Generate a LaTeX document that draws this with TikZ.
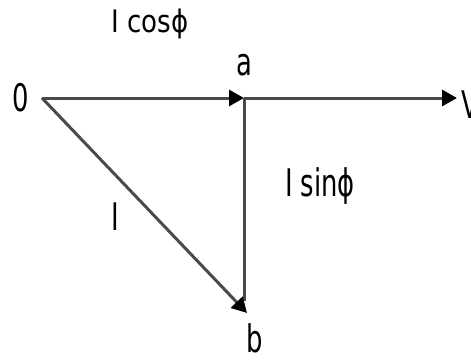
\documentclass[tikz,border=0pt]{standalone}
\usepackage{fontspec}
\setmainfont{DejaVu Sans}
\usepackage{graphicx}
\usetikzlibrary{arrows.meta, positioning}
\definecolor{cline}{HTML}{4A4A4A}
\newcommand\squeeze[2][0.68]{\scalebox{#1}[1]{#2}}
\tikzset{
  every picture/.style={line width=3pt},
  vec/.style={draw=cline, -{Triangle[length=15pt, width=16pt, color=black]}},
  leg/.style={draw=cline},
  lbl/.style={font=\fontsize{38}{40}\selectfont, inner sep=0pt},
  toplbl/.style={font=\fontsize{31}{34}\selectfont, inner sep=0pt},
}

\begin{document}
\begin{tikzpicture}[x=1pt, y=-1pt]
  \useasboundingbox (0,0) rectangle (471,361);
  \coordinate (O) at (42,98);
  \coordinate (a) at (244,98);
  \coordinate (v) at (457,98);
  \coordinate (b) at (247,313);
  % phasors
  \draw[vec] (O) -- (a);
  \draw[vec] (a) -- (v);
  \draw[leg, shorten >=12pt] (a) -- (a |- b);
  \draw[vec] (O) -- (b);
  % labels
  \node[toplbl] (lcos) at (150,24) {\squeeze[0.84]{I cosϕ}};
  \node[lbl, left=12pt of O] (lO) {\squeeze{0}};
  \node[lbl, above=20pt of a] (la) {\squeeze{a}};
  \node[lbl, below=9pt of b, xshift=8pt] (lb) {\squeeze{b}};
  \node[lbl] (lI) at (115,217) {\squeeze{I}};
  \node[lbl] (lsin) at (320,186) {\squeeze{I sinϕ}};
  \node[lbl, anchor=west] (lV) at (460,105) {\squeeze{V}};
\end{tikzpicture}
\end{document}
